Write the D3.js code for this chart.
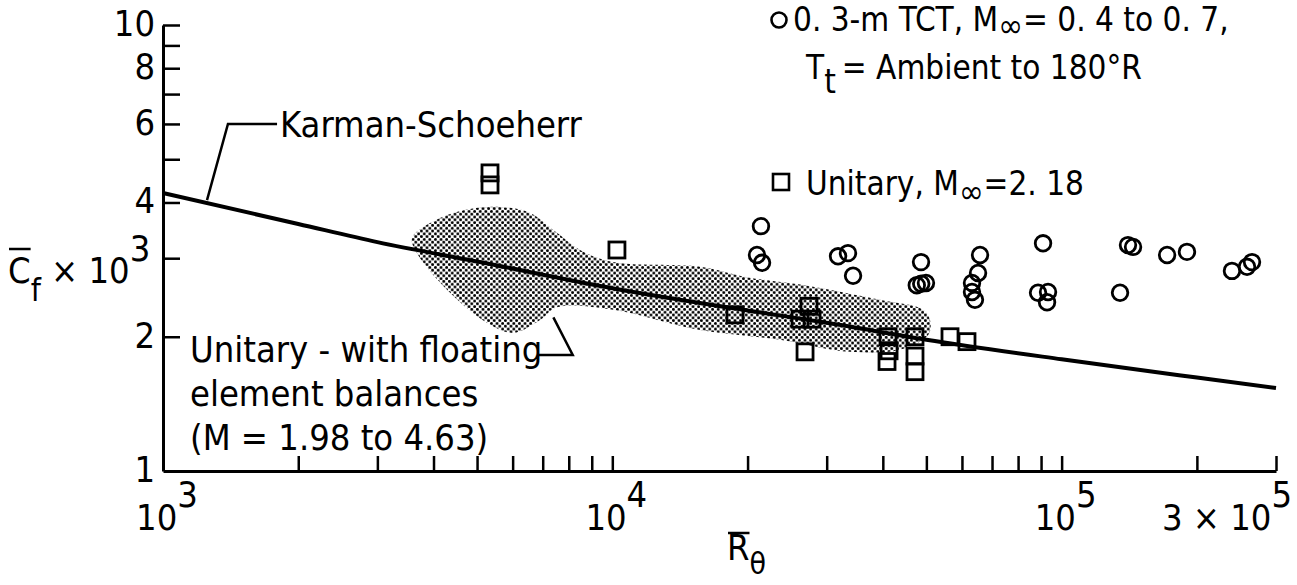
<!DOCTYPE html>
<html>
<head>
<meta charset="utf-8">
<script src="https://cdn.jsdelivr.net/npm/d3@7"></script>
<style>
  body { margin: 0; background: #fff; }
  svg text { font-family: "Liberation Sans Narrow", "Arial Narrow", "DejaVu Sans Condensed", sans-serif; fill: #000; }
</style>
</head>
<body>
<svg id="chart" width="1297" height="585"></svg>
<script>
// Karman-Schoenherr curve
const ksRe = [1e3, 2e3, 3e3, 5e3, 1e4, 2e4, 3e4, 5e4, 1e5, 2e5, 3e5];
const ksCf = [4.2, 3.58, 3.26, 2.95, 2.57, 2.29, 2.15, 1.97, 1.78, 1.62, 1.535];

// 0.3-m TCT (circles)
const tctRe = [21420, 20990, 21540, 31800, 33460, 34340, 48650, 47600, 48700, 49900,
  65830, 65160, 63170, 63170, 64140, 90920, 88620, 93270, 92800,
  134900, 140500, 144200, 171700, 190100, 239400, 258600, 265300];
const tctCf = [3.54, 3.05, 2.93, 3.03, 3.08, 2.74, 2.94, 2.61, 2.63, 2.64,
  3.05, 2.78, 2.64, 2.52, 2.42, 3.24, 2.51, 2.52, 2.39,
  2.51, 3.21, 3.18, 3.05, 3.10, 2.81, 2.87, 2.94];

// Unitary, M = 2.18 (squares)
const unitRe = [5343, 5343, 10240, 18750, 27400, 26170, 27830, 26850,
  41080, 41300, 40870, 47170, 47170, 47170, 56440, 61570];
const unitCf = [4.66, 4.38, 3.13, 2.24, 2.34, 2.19, 2.19, 1.85,
  2.0, 1.86, 1.76, 2.0, 1.81, 1.67, 2.0, 1.95];

// floating element balance band (upper edge left->right, lower edge right->left)
const bandUpRe = [3583, 4135, 4824, 5624, 6558, 7533, 8474, 10040, 15680, 19940, 27970, 39430, 49150, 50940];
const bandUpCf = [3.33, 3.69, 3.87, 3.91, 3.79, 3.42, 3.13, 2.94, 2.87, 2.72, 2.59, 2.42, 2.30, 2.18];
const bandLoRe = [50500, 43650, 33810, 23610, 15680, 10040, 7533, 6903, 6012, 5261, 4287, 3675];
const bandLoCf = [2.02, 1.87, 1.85, 1.97, 2.07, 2.30, 2.33, 2.18, 2.04, 2.15, 2.55, 3.08];

const xTicks = [2e3, 3e3, 4e3, 5e3, 6e3, 7e3, 8e3, 9e3, 1e4, 2e4, 3e4, 4e4, 5e4, 6e4, 7e4, 8e4, 9e4, 1e5, 2e5, 3e5];
const yTicks = [2, 3, 4, 5, 6, 7, 8, 9, 10];
const yLabels = [1, 2, 4, 6, 8, 10];
const xLabels = [[1e3, '3'], [1e4, '4'], [1e5, '5']];

const svg = d3.select('#chart');
const x = d3.scaleLog().domain([1e3, 3e5]).range([163, 1276]);
const y = d3.scaleLog().domain([1, 10]).range([471, 25]);

svg.append('rect').attr('width', 1297).attr('height', 585).attr('fill', '#fff');

// stipple pattern for the band
const pat = svg.append('defs').append('pattern')
  .attr('id', 'dots').attr('width', 5.6).attr('height', 5.6)
  .attr('patternUnits', 'userSpaceOnUse');
pat.append('circle').attr('cx', 1.4).attr('cy', 1.4).attr('r', 1.45).attr('fill', '#000');
pat.append('circle').attr('cx', 4.2).attr('cy', 4.2).attr('r', 1.45).attr('fill', '#000');

const band = bandUpRe.map((r, i) => [r, bandUpCf[i]])
  .concat(bandLoRe.map((r, i) => [r, bandLoCf[i]]));
svg.append('path')
  .attr('d', d3.line().x(d => x(d[0])).y(d => y(d[1])).curve(d3.curveCatmullRomClosed)(band))
  .attr('fill', 'url(#dots)');

// axes
svg.append('g')
  .attr('transform', `translate(0,${y(1)})`)
  .call(d3.axisBottom(x).tickValues(xTicks).tickSize(-15).tickSizeOuter(0).tickFormat(''));
svg.append('g')
  .attr('transform', `translate(${x(1e3)},0)`)
  .call(d3.axisLeft(y).tickValues(yTicks).tickSize(-17).tickSizeOuter(0).tickFormat(''));
svg.selectAll('.domain').attr('stroke', '#000').attr('stroke-width', 3);
svg.selectAll('.tick line').attr('stroke', '#000').attr('stroke-width', 2.5);

// y tick labels
svg.append('g').selectAll('text').data(yLabels).join('text')
  .attr('x', 155).attr('y', d => y(d) + 11)
  .attr('text-anchor', 'end').attr('font-size', 36)
  .text(d => d);

// x tick labels
xLabels.forEach(([v, p]) => {
  const t = svg.append('text').attr('x', x(v) + 4).attr('y', 530)
    .attr('text-anchor', 'middle').attr('font-size', 36);
  t.append('tspan').text('10');
  t.append('tspan').attr('dy', -23).text(p);
});
const t3 = svg.append('text').attr('x', 1292).attr('y', 530)
  .attr('text-anchor', 'end').attr('font-size', 36);
t3.append('tspan').text('3 \u00d7 10');
t3.append('tspan').attr('dy', -23).text('5');

// Karman-Schoenherr line
const ks = ksRe.map((r, i) => [r, ksCf[i]]);
svg.append('path')
  .attr('d', d3.line().x(d => x(d[0])).y(d => y(d[1])).curve(d3.curveMonotoneX)(ks))
  .attr('fill', 'none').attr('stroke', '#000').attr('stroke-width', 4);

// data points
svg.append('g').selectAll('circle').data(tctRe).join('circle')
  .attr('cx', d => x(d)).attr('cy', (d, i) => y(tctCf[i])).attr('r', 7.8)
  .attr('fill', 'none').attr('stroke', '#000').attr('stroke-width', 2.8);
svg.append('g').selectAll('rect').data(unitRe).join('rect')
  .attr('x', d => x(d) - 8).attr('y', (d, i) => y(unitCf[i]) - 8)
  .attr('width', 16).attr('height', 16)
  .attr('fill', 'none').attr('stroke', '#000').attr('stroke-width', 2.8);

// annotations
const leader = d3.line().x(d => x(d[0])).y(d => y(d[1]));
svg.append('path').attr('d', leader([[1253, 4.05], [1395, 6], [1794, 6]]))
  .attr('fill', 'none').attr('stroke', '#000').attr('stroke-width', 2.5);
svg.append('text').attr('x', 280).attr('y', y(6) + 13).attr('font-size', 36).text('Karman-Schoeherr');

svg.append('path').attr('d', leader([[6866, 1.82], [8164, 1.82], [7393, 2.21]]))
  .attr('fill', 'none').attr('stroke', '#000').attr('stroke-width', 2.5);
['Unitary - with floating', 'element balances', '(M = 1.98 to 4.63)'].forEach((s, i) => {
  svg.append('text').attr('x', 190).attr('y', 362 + i * 44).attr('font-size', 36).text(s);
});

// legend
svg.append('circle').attr('cx', 779).attr('cy', 20).attr('r', 7.5)
  .attr('fill', 'none').attr('stroke', '#000').attr('stroke-width', 2.6);
const l1 = svg.append('text').attr('x', 793).attr('y', 31).attr('font-size', 33);
l1.append('tspan').text('0. 3-m  TCT, M');
l1.append('tspan').attr('dy', 6).text('\u221e');
l1.append('tspan').attr('dy', -6).text('=  0. 4  to  0. 7,');
const l2 = svg.append('text').attr('x', 806).attr('y', 79).attr('font-size', 33);
l2.append('tspan').text('T');
l2.append('tspan').attr('dy', 14).text('t');
l2.append('tspan').attr('dy', -14).attr('dx', 6).text('= Ambient  to  180\u00b0R');
svg.append('rect').attr('x', 773).attr('y', 174).attr('width', 16).attr('height', 16)
  .attr('fill', 'none').attr('stroke', '#000').attr('stroke-width', 2.6);
const l3 = svg.append('text').attr('x', 806).attr('y', 195).attr('font-size', 33);
l3.append('tspan').text('Unitary, M');
l3.append('tspan').attr('dy', 8).text('\u221e');
l3.append('tspan').attr('dy', -8).text('=2. 18');

// axis titles with overbars
const yt = svg.append('text').attr('x', 8).attr('y', 283).attr('font-size', 36);
yt.append('tspan').text('C');
yt.append('tspan').attr('dy', 18).attr('font-size', 32).text('f');
yt.append('tspan').attr('dy', -18).text(' \u00d7 10');
yt.append('tspan').attr('dy', -22).text('3');
const cw = yt.node().getSubStringLength(0, 1);
svg.append('line').attr('x1', 9).attr('x2', 8 + cw).attr('y1', 249).attr('y2', 249)
  .attr('stroke', '#000').attr('stroke-width', 2.5);

const xt = svg.append('text').attr('x', 727).attr('y', 560).attr('font-size', 36);
xt.append('tspan').text('R');
xt.append('tspan').attr('dy', 14).attr('font-size', 30).text('\u03b8');
const rw = xt.node().getSubStringLength(0, 1);
svg.append('line').attr('x1', 728).attr('x2', 727 + rw).attr('y1', 533).attr('y2', 533)
  .attr('stroke', '#000').attr('stroke-width', 2.5);
</script>
</body>
</html>
